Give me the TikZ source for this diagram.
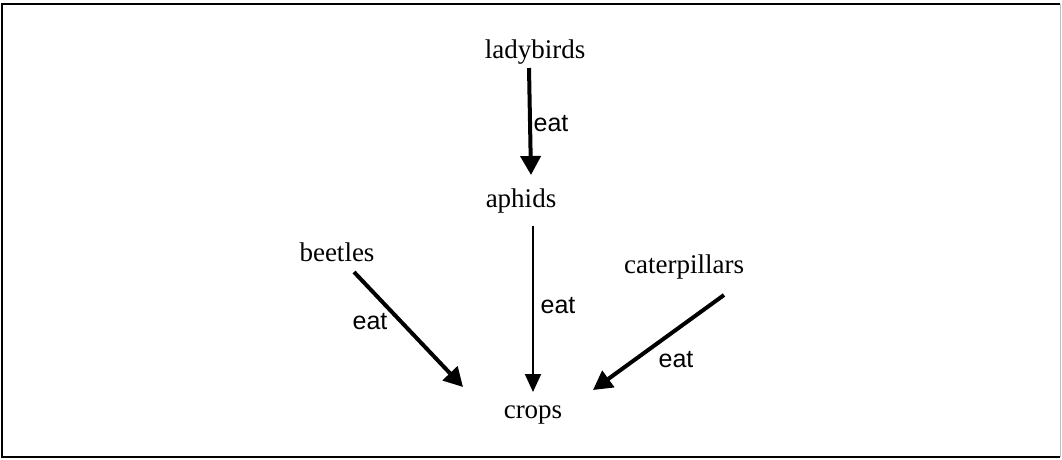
\documentclass[tikz,border=0pt]{standalone}
\usepackage{fontspec}
\setmainfont{Liberation Serif}
\newfontfamily\eatfont{Liberation Sans}
\usetikzlibrary{arrows.meta,calc}
\begin{document}
\begin{tikzpicture}[x=1pt,y=-1pt,
  animal/.style={font=\fontsize{27}{30}\selectfont, inner sep=0pt, anchor=base},
  verb/.style={font=\eatfont\fontsize{25}{28}\selectfont, inner sep=0pt, anchor=base},
  thickarr/.style={line width=4pt, -{Triangle[length=19pt,width=20pt]}},
  thinarr/.style={line width=2pt, -{Triangle[length=18pt,width=16pt]}}]
\useasboundingbox (0,0) rectangle (1062,459);
% frame
\draw[line width=2.5pt] (1060,4) -- (2,4) -- (2,457) -- (1060,457);
\draw[line width=1pt, black!25] (1060,4) -- (1060,457);
% nodes
\node[animal] (ladybirds) at (535,58) {ladybirds};
\node[animal] (aphids) at (521,207) {aphids};
\node[animal] (beetles) at (337,261) {beetles};
\node[animal] (caterpillars) at (684,273) {caterpillars};
\node[animal] (crops) at (533,418) {crops};
% arrows
\draw[thickarr] ($(ladybirds.base)+(-6,10)$) -- ($(aphids.base)+(10,-32)$);
\draw[thinarr] ($(aphids.base)+(12,19)$) -- ($(crops.base)+(0,-26)$);
\draw[thickarr] ($(beetles.base)+(17,11)$) -- ($(crops.base)+(-70,-31)$);
\draw[thickarr] ($(caterpillars.base)+(40,22)$) -- ($(crops.base)+(60,-28)$);
% labels
\node[verb] (e1) at (551,131) {eat};
\node[verb] (e2) at (558,313) {eat};
\node[verb] (e3) at (370,329) {eat};
\node[verb] (e4) at (676,367) {eat};
\end{tikzpicture}
\end{document}
